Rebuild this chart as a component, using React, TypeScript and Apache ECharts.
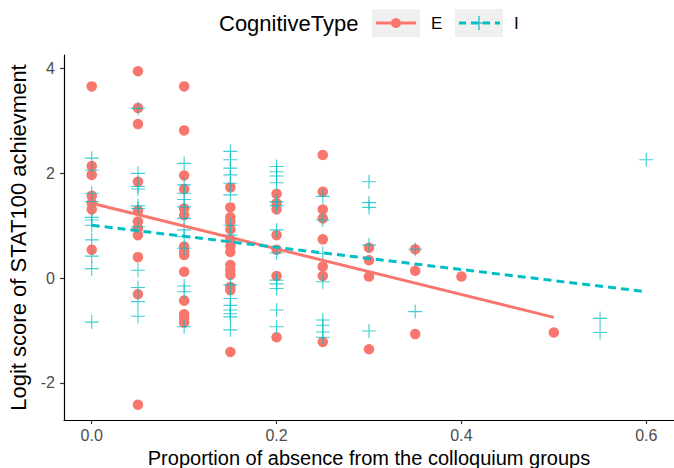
import React, { useEffect, useRef } from "react";
import * as echarts from "echarts";

// Proportion of absence (x positions of the columns)
const absence = [0, 0.05, 0.1, 0.15, 0.2, 0.25, 0.3, 0.35, 0.4, 0.5, 0.55, 0.6];

// Logit scores for CognitiveType E, aligned with `absence`
const scoresE: number[][] = [
  [3.66, 2.14, 1.97, 1.57, 1.43, 1.31, 0.54],
  [3.95, 3.25, 2.94, 1.84, 1.29, 1.08, 0.95, 0.82, 0.4, -0.31, -2.42],
  [3.66, 2.82, 1.96, 1.7, 1.33, 1.2, 0.6, 0.5, 0.44, 0.12, -0.43, -0.69, -0.77, -0.85],
  [1.73, 1.35, 1.16, 1.08, 0.93, 0.73, 0.61, 0.5, 0.25, 0.15, 0.06, -0.17, -0.23, -1.41],
  [1.61, 1.43, 1.31, 0.82, 0.54, 0.04, -1.13],
  [2.35, 1.65, 1.31, 1.14, 0.74, 0.22, 0.04, -1.22],
  [0.58, 0.34, 0.03, -1.36],
  [0.55, 0.14, -1.07],
  [0.03],
  [-1.04],
  [],
  [],
];

// Logit scores for CognitiveType I, aligned with `absence`
const scoresI: number[][] = [
  [2.29, 2.06, 1.62, 1.46, 1.16, 1.11, 1.01, 0.73, 0.42, 0.18, -0.84],
  [3.24, 2.0, 1.75, 1.7, 1.38, 1.33, 0.98, 0.15, -0.18, -0.45, -0.73],
  [2.19, 1.78, 1.62, 1.5, 1.36, 1.14, 0.92, 0.79, 0.57, -0.15, -0.26, -0.93],
  [2.42, 2.26, 2.1, 1.97, 1.81, 1.59, 1.01, 0.82, -0.13, -0.39, -0.52, -0.61, -0.68, -0.74, -0.99],
  [2.13, 2.03, 1.95, 1.82, 1.46, 1.38, 0.92, 0.48, -0.04, -0.11, -0.2, -0.61, -0.93],
  [1.56, 1.11, 0.47, -0.07, -0.8, -0.9, -1.03, -1.13],
  [1.84, 1.44, 1.35, 0.63, -1.01],
  [0.55, -0.64],
  [],
  [],
  [-0.77, -1.04],
  [2.26],
];

// Linear fit end points
const fitE: number[][] = [
  [0, 1.43],
  [0.5, -0.75],
];
const fitI: number[][] = [
  [0, 1.01],
  [0.6, -0.26],
];

const xTicks = [0, 0.2, 0.4, 0.6];
const yTicks = [-2, 0, 2, 4];

const RED = "#F8766D";
const TEAL = "#00BFC4";
const FONT = "'Liberation Sans', Arial, sans-serif";
const PLUS =
  "path://M-0.08,-1H0.08V-0.08H1V0.08H0.08V1H-0.08V0.08H-1V-0.08H-0.08Z";

function toPairs(cols: number[][]): number[][] {
  const out: number[][] = [];
  cols.forEach((ys, i) => ys.forEach((y) => out.push([absence[i], y])));
  return out;
}

export default function App() {
  const ref = useRef<HTMLDivElement>(null);
  useEffect(() => {
    if (!ref.current) return;
    const chart = echarts.init(ref.current, undefined, { renderer: "svg" });
    const axisCommon = {
      type: "value" as const,
      splitLine: { show: false },
      axisLine: { show: true, onZero: false, lineStyle: { color: "#000", width: 1.2 } },
      axisTick: { show: true, length: 4, lineStyle: { color: "#333", width: 1.2 } },
    };
    chart.setOption({
      animation: false,
      backgroundColor: "#fff",
      grid: {
        left: 64,
        right: 0,
        top: 55,
        bottom: 48,
        containLabel: false,
        outerBoundsMode: "none",
      },
      xAxis: {
        ...axisCommon,
        min: -0.03,
        max: 0.63,
        axisTick: { ...axisCommon.axisTick, customValues: xTicks },
        axisLabel: {
          customValues: xTicks,
          formatter: (v: number) => v.toFixed(1),
          color: "#4d4d4d",
          fontSize: 16,
          fontFamily: FONT,
          margin: 7,
        },
        name: "Proportion of absence from the colloquium groups",
        nameLocation: "middle",
        nameGap: 22,
        nameTextStyle: { color: "#000", fontSize: 20, lineHeight: 20, fontFamily: FONT },
      },
      yAxis: {
        ...axisCommon,
        min: -2.71,
        max: 4.26,
        axisTick: { ...axisCommon.axisTick, customValues: yTicks },
        axisLabel: {
          customValues: yTicks,
          formatter: (v: number) => String(v),
          color: "#4d4d4d",
          fontSize: 16,
          fontFamily: FONT,
          margin: 9,
        },
        name: "Logit score of STAT100 achievment",
        nameLocation: "middle",
        nameGap: 26,
        nameTextStyle: { color: "#000", fontSize: 22, fontFamily: FONT },
      },
      series: [
        {
          name: "E",
          type: "scatter",
          data: toPairs(scoresE),
          symbol: "circle",
          symbolSize: 10.5,
          itemStyle: { color: RED, opacity: 1 },
          z: 2,
        },
        {
          name: "I",
          type: "scatter",
          data: toPairs(scoresI),
          symbol: PLUS,
          symbolSize: 14,
          itemStyle: { color: TEAL, opacity: 0.75 },
          z: 3,
        },
        {
          name: "E fit",
          type: "line",
          data: fitE,
          showSymbol: false,
          lineStyle: { color: RED, width: 3 },
          z: 4,
        },
        {
          name: "I fit",
          type: "line",
          data: fitI,
          showSymbol: false,
          lineStyle: { color: TEAL, width: 3, type: [8, 5] },
          z: 5,
        },
      ],
      graphic: [
        {
          type: "text",
          left: 219,
          top: 12,
          style: { text: "CognitiveType", fontSize: 22, fontFamily: FONT, fill: "#000" },
        },
        { type: "rect", shape: { x: 372, y: 9, width: 48, height: 28 }, style: { fill: "#f0f0f0" } },
        {
          type: "line",
          shape: { x1: 376, y1: 23, x2: 416, y2: 23 },
          style: { stroke: RED, lineWidth: 3 },
        },
        { type: "circle", shape: { cx: 396, cy: 23, r: 5 }, style: { fill: RED } },
        {
          type: "text",
          left: 431,
          top: 15,
          style: { text: "E", fontSize: 17, fontFamily: FONT, fill: "#000" },
        },
        { type: "rect", shape: { x: 455, y: 9, width: 48, height: 28 }, style: { fill: "#f0f0f0" } },
        {
          type: "line",
          shape: { x1: 459, y1: 23, x2: 500, y2: 23 },
          style: { stroke: TEAL, lineWidth: 3, lineDash: [7, 5] },
        },
        {
          type: "line",
          shape: { x1: 479, y1: 16, x2: 479, y2: 30 },
          style: { stroke: TEAL, lineWidth: 1.2 },
        },
        {
          type: "line",
          shape: { x1: 472, y1: 23, x2: 486, y2: 23 },
          style: { stroke: TEAL, lineWidth: 1.2 },
        },
        {
          type: "text",
          left: 514,
          top: 15,
          style: { text: "I", fontSize: 17, fontFamily: FONT, fill: "#000" },
        },
      ],
    });
    return () => chart.dispose();
  }, []);
  return (
    <div
      ref={ref}
      style={{ position: "absolute", left: 0, top: 0, width: 674, height: 468 }}
    />
  );
}
